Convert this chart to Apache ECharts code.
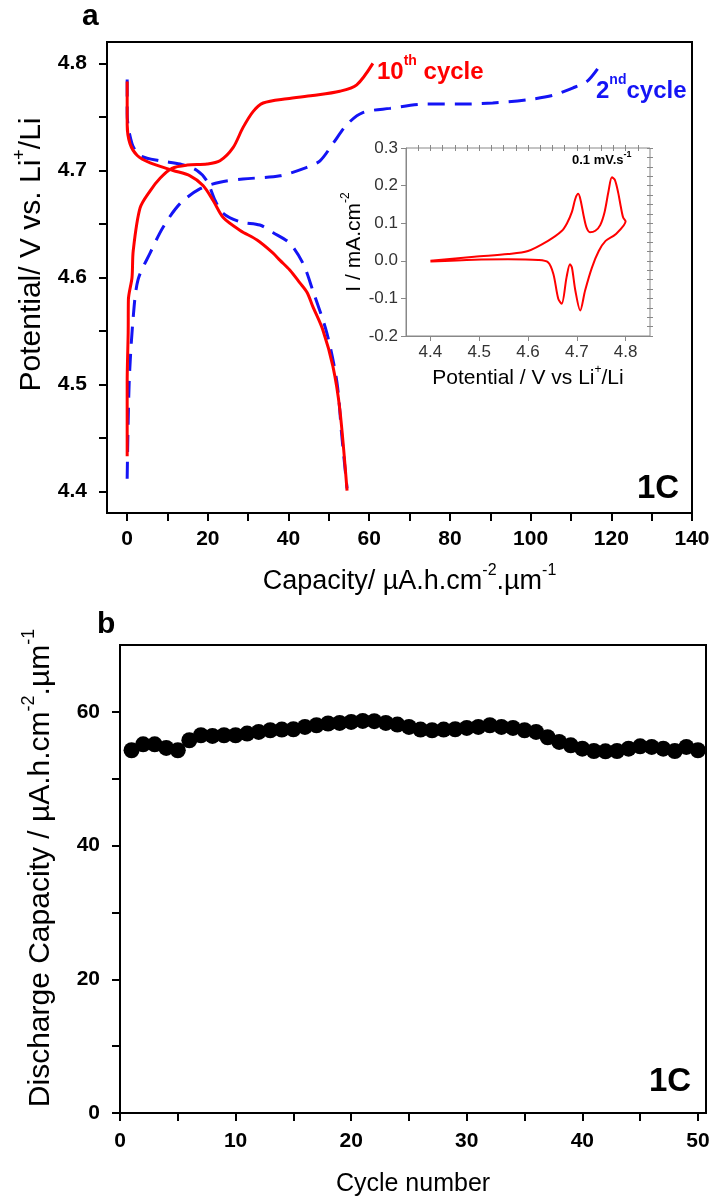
<!DOCTYPE html>
<html><head><meta charset="utf-8">
<script src="https://cdn.jsdelivr.net/npm/echarts@6/dist/echarts.min.js"></script>
<style>html,body{margin:0;padding:0;background:#fff}#c{width:715px;height:1198px}</style>
</head><body><div id="c"></div>
<script>
// ---- Panel a: charge/discharge curves ----
const cap10Charge = [0,0,0.25,0.3,1.2,1.5,3.2,5.7,8.2,11.1,14.9,19.8,23.0,26.2,28.7,31.2,33.7,39.6,46.0,52.7,56.9,60.9];
const v10Charge   = [4.433,4.502,4.549,4.579,4.600,4.625,4.665,4.681,4.693,4.702,4.705,4.706,4.709,4.721,4.740,4.755,4.763,4.767,4.770,4.774,4.780,4.800];
const cap10Dis = [0,0,0.7,2.5,5.7,11.4,15.6,18.8,21.3,23.8,28.0,32.2,36.1,37.9,40.3,42.8,44.6,46.0,48.5,51.0,52.7,54.5];
const v10Dis   = [4.783,4.743,4.725,4.714,4.707,4.700,4.695,4.686,4.672,4.656,4.644,4.635,4.623,4.616,4.607,4.595,4.586,4.573,4.551,4.517,4.477,4.401];
const cap2Charge = [0,0.5,1.5,2.7,5.7,8.9,13.1,18.1,23.0,28.7,37.9,44.6,47.8,51.0,54.5,58.4,65.1,74.3,82.4,90.6,99.0,105.4,110.4,113.9,116.6];
const v2Charge   = [4.412,4.502,4.563,4.598,4.623,4.647,4.669,4.683,4.689,4.692,4.695,4.703,4.709,4.725,4.743,4.754,4.758,4.762,4.762,4.763,4.766,4.770,4.777,4.783,4.795];
const cap2Dis = [0,0,1.2,3.2,8.2,13.1,17.3,19.8,21.8,23.8,28.0,32.9,36.1,40.3,43.6,46.0,49.5,52.0,53.2,54.5];
const v2Dis   = [4.785,4.753,4.725,4.714,4.709,4.706,4.700,4.690,4.672,4.660,4.652,4.649,4.642,4.632,4.613,4.588,4.548,4.502,4.452,4.403];
const capLabels = [0,20,40,60,80,100,120,140];
const capTicks  = [0,10,20,30,40,50,60,70,80,90,100,110,120,130,140];
const potLabels = [4.4,4.5,4.6,4.7,4.8];
const potTicks  = [4.4,4.45,4.5,4.55,4.6,4.65,4.7,4.75,4.8];

// ---- Inset: cyclic voltammogram ----
const cvV = [4.4,4.49,4.559,4.6,4.641,4.669,4.68,4.69,4.697,4.703,4.708,4.714,4.72,4.727,4.738,4.748,4.757,4.765,4.772,4.778,4.785,4.79,4.795,4.8,
             4.779,4.759,4.745,4.731,4.717,4.707,4.697,4.69,4.686,4.679,4.669,4.662,4.652,4.641,4.621,4.559,4.49,4.4];
const cvI = [0,0.011,0.018,0.026,0.053,0.079,0.1,0.13,0.165,0.178,0.16,0.12,0.088,0.076,0.08,0.095,0.13,0.185,0.222,0.215,0.18,0.145,0.115,0.105,
             0.07,0.053,0.026,-0.018,-0.079,-0.132,-0.079,-0.018,-0.009,-0.044,-0.114,-0.101,-0.035,-0.004,0.002,0.004,0.003,-0.002];
const cvXLabels = [4.4,4.5,4.6,4.7,4.8];
const cvXMinor  = [4.375,4.4,4.425,4.45,4.475,4.5,4.525,4.55,4.575,4.6,4.625,4.65,4.675,4.7,4.725,4.75,4.775,4.8,4.825];
const cvYLabels = [-0.2,-0.1,0.0,0.1,0.2,0.3];
const cvYMinor  = [-0.2,-0.175,-0.15,-0.125,-0.1,-0.075,-0.05,-0.025,0,0.025,0.05,0.075,0.1,0.125,0.15,0.175,0.2,0.225,0.25,0.275,0.3];

// ---- Panel b: discharge capacity vs cycle ----
const cycles = [1,2,3,4,5,6,7,8,9,10,11,12,13,14,15,16,17,18,19,20,21,22,23,24,25,26,27,28,29,30,31,32,33,34,35,36,37,38,39,40,41,42,43,44,45,46,47,48,49,50];
const disCap = [54.26,55.15,55.15,54.6,54.26,55.75,56.5,56.4,56.5,56.5,56.75,57.0,57.25,57.35,57.4,57.75,58.0,58.26,58.35,58.5,58.65,58.6,58.35,58.1,57.75,
                57.35,57.25,57.35,57.4,57.6,57.75,58.0,57.75,57.6,57.25,57.0,56.2,55.5,55.0,54.5,54.15,54.1,54.15,54.5,54.85,54.75,54.5,54.15,54.75,54.26];
const cycLabels = [0,10,20,30,40,50];
const cycTicks  = [0,5,10,15,20,25,30,35,40,45,50];
const dcLabels = [0,20,40,60];
const dcTicks  = [0,10,20,30,40,50,60];

const FONT = '"Liberation Sans", Arial, sans-serif';
const BLUE = '#1414f5';
const zip = (a,b) => a.map((v,i)=>[v,b[i]]);

function richName(size, supSize, lh, pad){
  return {
    fontFamily: FONT, color:'#000', fontSize: size, padding: pad || 0,
    rich: {
      n: {fontFamily: FONT, fontSize: size, color:'#000', lineHeight: lh, verticalAlign:'bottom'},
      s: {fontFamily: FONT, fontSize: supSize, color:'#000', verticalAlign:'top'}
    }
  };
}
const bigTick = {fontFamily: FONT, fontWeight:'bold', fontSize: 21, color:'#000'};
const hidden = {show:false, onZero:false};

const chart = echarts.init(document.getElementById('c'), null, {renderer:'canvas'});
chart.setOption({
  animation:false,
  backgroundColor:'#fff',
  grid:[
    {left:107, top:42, width:585, height:471, show:true, borderColor:'#000', borderWidth:2, backgroundColor:'transparent', containLabel:false},
    {left:406, top:148, width:244, height:188, show:true, borderColor:'#888', borderWidth:1, backgroundColor:'transparent', containLabel:false},
    {left:120, top:645, width:586, height:468, show:true, borderColor:'#000', borderWidth:2, backgroundColor:'transparent', containLabel:false}
  ],
  xAxis:[
    {gridIndex:0, type:'value', min:-5, max:140,
     axisLine:{onZero:false, lineStyle:{color:'#000', width:2}},
     axisTick:{customValues:capTicks, inside:false, length:8, lineStyle:{color:'#000', width:2}},
     axisLabel:{customValues:capLabels, margin:16, ...bigTick},
     splitLine:{show:false},
     name:'{n|Capacity/ µA.h.cm}{s|-2}{n|.µm}{s|-1}', nameLocation:'middle', nameGap:50,
     nameTextStyle: richName(27,16,32,[0,0,0,20])},
    {gridIndex:1, type:'value', min:4.35, max:4.85,
     axisLine:{onZero:false, lineStyle:{color:'#888', width:1}},
     axisTick:{customValues:cvXLabels, inside:false, length:5, lineStyle:{color:'#888'}},
     axisLabel:{customValues:cvXLabels, margin:8, fontFamily:FONT, fontSize:17, color:'#333', formatter:v=>v.toFixed(1)},
     splitLine:{show:false},
     name:'{n|Potential / V vs Li}{s|+}{n|/Li}', nameLocation:'middle', nameGap:28,
     nameTextStyle: richName(21,12,25)},
    {gridIndex:1, type:'value', min:4.35, max:4.85,
     axisLine:hidden, axisLabel:{show:false}, splitLine:{show:false},
     axisTick:{customValues:cvXMinor, inside:false, length:3, lineStyle:{color:'#888'}}},
    {gridIndex:1, type:'value', min:4.35, max:4.85, position:'top',
     axisLine:hidden, axisLabel:{show:false}, splitLine:{show:false},
     axisTick:{customValues:cvXMinor, inside:true, length:3, lineStyle:{color:'#888'}}},
    {gridIndex:2, type:'value', min:0, max:50.7,
     axisLine:{onZero:false, lineStyle:{color:'#000', width:2}},
     axisTick:{customValues:cycTicks, inside:false, length:8, lineStyle:{color:'#000', width:2}},
     axisLabel:{customValues:cycLabels, margin:18, ...bigTick},
     splitLine:{show:false},
     name:'{n|Cycle number}', nameLocation:'middle', nameGap:54,
     nameTextStyle: richName(25,15,30)}
  ],
  yAxis:[
    {gridIndex:0, type:'value', min:4.38, max:4.82,
     axisLine:{onZero:false, lineStyle:{color:'#000', width:2}},
     axisTick:{customValues:potTicks, inside:false, length:8, lineStyle:{color:'#000', width:2}},
     axisLabel:{customValues:potLabels, margin:20, ...bigTick, formatter:v=>v.toFixed(1)},
     splitLine:{show:false},
     name:'{n|Potential/ V vs. Li}{s|+}{n|/Li}', nameLocation:'middle', nameGap:56,
     nameTextStyle: richName(30,18,36,[0,0,0,46])},
    {gridIndex:1, type:'value', min:-0.2, max:0.3,
     axisLine:{onZero:false, lineStyle:{color:'#888', width:1}},
     axisTick:{customValues:cvYLabels, inside:false, length:5, lineStyle:{color:'#888'}},
     axisLabel:{customValues:cvYLabels, margin:8, fontFamily:FONT, fontSize:17, color:'#333', formatter:v=>v.toFixed(1)},
     splitLine:{show:false},
     name:'{n|I / mA.cm}{s|-2}', nameLocation:'middle', nameGap:38,
     nameTextStyle: richName(21,12,25)},
    {gridIndex:1, type:'value', min:-0.2, max:0.3,
     axisLine:hidden, axisLabel:{show:false}, splitLine:{show:false},
     axisTick:{customValues:cvYMinor, inside:false, length:3, lineStyle:{color:'#888'}}},
    {gridIndex:1, type:'value', min:-0.2, max:0.3, position:'right',
     axisLine:hidden, axisLabel:{show:false}, splitLine:{show:false},
     axisTick:{customValues:cvYMinor, inside:true, length:3, lineStyle:{color:'#888'}}},
    {gridIndex:2, type:'value', min:0, max:70,
     axisLine:{onZero:false, lineStyle:{color:'#000', width:2}},
     axisTick:{customValues:dcTicks, inside:false, length:8, lineStyle:{color:'#000', width:2}},
     axisLabel:{customValues:dcLabels, margin:20, ...bigTick},
     splitLine:{show:false},
     name:'{n|Discharge Capacity / µA.h.cm}{s|-2}{n|.µm}{s|-1}', nameLocation:'middle', nameGap:64,
     nameTextStyle: richName(30,18,36,[0,0,0,22])}
  ],
  series:[
    {type:'line', xAxisIndex:0, yAxisIndex:0, data:zip(cap2Charge,v2Charge), showSymbol:false, smooth:0.3,
     lineStyle:{color:BLUE, width:3, type:[17,10]}},
    {type:'line', xAxisIndex:0, yAxisIndex:0, data:zip(cap2Dis,v2Dis), showSymbol:false, smooth:0.3,
     lineStyle:{color:BLUE, width:3, type:[17,10]}},
    {type:'line', xAxisIndex:0, yAxisIndex:0, data:zip(cap10Charge,v10Charge), showSymbol:false, smooth:0.3,
     lineStyle:{color:'#ff0000', width:3}},
    {type:'line', xAxisIndex:0, yAxisIndex:0, data:zip(cap10Dis,v10Dis), showSymbol:false, smooth:0.3,
     lineStyle:{color:'#ff0000', width:3}},
    {type:'line', xAxisIndex:1, yAxisIndex:1, data:zip(cvV,cvI), showSymbol:false, smooth:0.3,
     lineStyle:{color:'#ff0000', width:2}},
    {type:'scatter', xAxisIndex:4, yAxisIndex:4, data:zip(cycles,disCap), symbol:'circle', symbolSize:16,
     itemStyle:{color:'#000', opacity:1}}
  ],
  graphic:[
    {type:'text', left:82, top:2, style:{text:'a', font:'bold 30px '+FONT, fill:'#000'}},
    {type:'text', left:97, top:610, style:{text:'b', font:'bold 30px '+FONT, fill:'#000'}},
    {type:'text', left:637, top:472, style:{text:'1C', font:'bold 33px '+FONT, fill:'#000'}},
    {type:'text', left:649, top:1065, style:{text:'1C', font:'bold 33px '+FONT, fill:'#000'}},
    {type:'text', left:377, top:54, style:{text:'{a|10}{b|th}{a| cycle}', fill:'#ff0000',
      rich:{a:{font:'bold 24px '+FONT, fill:'#ff0000', lineHeight:30, verticalAlign:'bottom'}, b:{font:'bold 14px '+FONT, fill:'#ff0000', verticalAlign:'top'}}}},
    {type:'text', left:596, top:73, style:{text:'{a|2}{b|nd}{a|cycle}', fill:BLUE,
      rich:{a:{font:'bold 24px '+FONT, fill:BLUE, lineHeight:30, verticalAlign:'bottom'}, b:{font:'bold 14px '+FONT, fill:BLUE, verticalAlign:'top'}}}},
    {type:'text', left:572, top:150, style:{text:'{a|0.1 mV.s}{b|-1}', fill:'#000',
      rich:{a:{font:'bold 13px '+FONT, fill:'#000', lineHeight:17, verticalAlign:'bottom'}, b:{font:'bold 9px '+FONT, fill:'#000', verticalAlign:'top'}}}}
  ]
});
</script></body></html>
